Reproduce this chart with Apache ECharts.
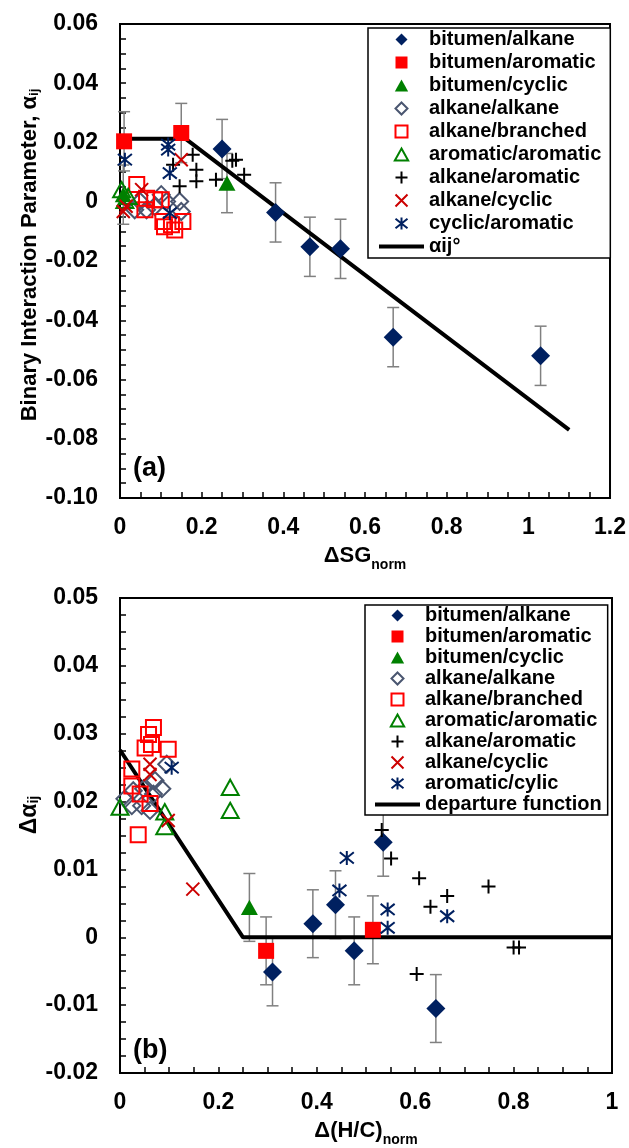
<!DOCTYPE html>
<html>
<head>
<meta charset="utf-8">
<script src="https://cdn.jsdelivr.net/npm/echarts@6/dist/echarts.min.js"></script>
<style>
  html, body { margin: 0; padding: 0; background: #fff; }
  #chart { width: 629px; height: 1148px; }
</style>
</head>
<body>
<div id="chart"></div>
<script>
// ---- (a) alpha_ij vs dSG_norm ----
const aBitAlkane = [[0.25, 0.0178], [0.381, -0.0036], [0.465, -0.0152], [0.54, -0.0159], [0.669, -0.0457], [1.03, -0.052]]
const aBitAromatic = [[0.01, 0.0204], [0.15, 0.0232]]
const aBitCyclic = [[0.008, 0.0024], [0.262, 0.0063]]
const aAlkAlk = [[0.036, -0.0027], [0.049, 0.0001], [0.065, -0.0027], [0.085, -0.0016], [0.101, 0.0024], [0.114, 0.0001], [0.146, 0.0001], [0.15, -0.0033]]
const aAlkBranched = [[0.041, 0.0058], [0.061, -0.0027], [0.065, 0.0012], [0.085, 0.0007], [0.101, 0.0007], [0.105, -0.0067], [0.109, -0.0084], [0.126, -0.0078], [0.134, -0.0095], [0.154, -0.0067]]
const aAroAro = [[0.004, 0.0041], [0.012, 0.0005], [0.02, 0.0018]]
const aAlkAro = [[0.13, 0.0125], [0.146, 0.0052], [0.178, 0.0159], [0.187, 0.0108], [0.187, 0.0069], [0.235, 0.0074], [0.275, 0.0138], [0.284, 0.0142], [0.304, 0.0091]]
const aAlkCyc = [[0.008, -0.0033], [0.015, -0.0015], [0.053, 0.0041], [0.15, 0.0142]]
const aCycAro = [[0.012, 0.0142], [0.118, 0.0193], [0.118, 0.0176], [0.122, 0.0097], [0.122, -0.0038]]
const aFit = [[0, 0.0213], [0.16, 0.0213], [1.1, -0.077]]
const aErr = 0.01

// ---- (b) delta alpha_ij vs d(H/C)_norm ----
const bBitAlkane = [[0.31, -0.0051], [0.392, 0.002], [0.438, 0.0048], [0.476, -0.002], [0.535, 0.014], [0.642, -0.0105]]
const bBitAromatic = [[0.297, -0.002], [0.514, 0.0011]]
const bBitCyclic = [[0.263, 0.0044]]
const bAlkAlk = [[0.01, 0.0204], [0.024, 0.0194], [0.027, 0.0216], [0.044, 0.0194], [0.048, 0.0219], [0.061, 0.0187], [0.068, 0.0211], [0.071, 0.0231], [0.085, 0.0219], [0.095, 0.0255]]
const bAlkBranched = [[0.024, 0.0248], [0.024, 0.0223], [0.037, 0.0151], [0.041, 0.0211], [0.051, 0.0279], [0.058, 0.0299], [0.061, 0.0197], [0.064, 0.0284], [0.068, 0.0309], [0.098, 0.0277]]
const bAroAro = [[0, 0.0192], [0.091, 0.0185], [0.091, 0.0163], [0.224, 0.0221], [0.224, 0.0187]]
const bAlkAro = [[0.532, 0.0158], [0.551, 0.0116], [0.603, -0.0054], [0.608, 0.0087], [0.631, 0.0045], [0.665, 0.0061], [0.749, 0.0075], [0.8, -0.0015], [0.811, -0.0015]]
const bAlkCyc = [[0.061, 0.0255], [0.061, 0.024], [0.098, 0.0172], [0.148, 0.0071]]
const bCycAro = [[0.105, 0.025], [0.446, 0.0069], [0.461, 0.0117], [0.544, 0.0041], [0.544, 0.0014], [0.665, 0.0031]]
const bFit = [[0, 0.0276], [0.25, 0], [1, 0]]
const bErr = 0.005

const aNames = ["bitumen/alkane", "bitumen/aromatic", "bitumen/cyclic", "alkane/alkane", "alkane/branched", "aromatic/aromatic", "alkane/aromatic", "alkane/cyclic", "cyclic/aromatic", "αij°"]
const bNames = ["bitumen/alkane", "bitumen/aromatic", "bitumen/cyclic", "alkane/alkane", "alkane/branched", "aromatic/aromatic", "alkane/aromatic", "alkane/cyclic", "aromatic/cylic", "departure function"]

const FONT = "Liberation Sans, Arial, sans-serif"
const NAVY = "#002060"
// path symbols so the legend keeps them square
const DIAMOND = "path://M5,0L10,5L5,10L0,5Z"
const SQUARE = "path://M0,0L10,0L10,10L0,10Z"
const TRIANGLE = "path://M5,0L10,9L0,9Z"
const PLUS = "path://M5,0L5,10M0,5L10,5"
const CROSS = "path://M0,0L10,10M10,0L0,10"
const STAR = "path://M0,1L10,9M10,1L0,9M5,0L5,10"

// marker looks
const looks = {
  bitAlkane: { symbol: DIAMOND, size: 19, color: NAVY, filled: true },
  bitAromatic: { symbol: SQUARE, size: 16, color: "#ff0000", filled: true },
  bitCyclic: { symbol: TRIANGLE, size: 17, color: "#008000", filled: true },
  alkAlk: { symbol: DIAMOND, size: 17, color: "#4a5670", filled: false },
  alkBranched: { symbol: SQUARE, size: 15, color: "#ff0000", filled: false },
  aroAro: { symbol: TRIANGLE, size: 17, color: "#008000", filled: false },
  alkAro: { symbol: PLUS, size: 14, color: "#000000", filled: false },
  alkCyc: { symbol: CROSS, size: 13, color: "#cc0000", filled: false },
  cycAro: { symbol: STAR, size: 14, color: NAVY, filled: false }
}

function scatter(name, data, look, idx) {
  return {
    type: "scatter",
    name: name,
    xAxisIndex: idx,
    yAxisIndex: idx,
    data: data,
    z: 3,
    symbol: look.symbol,
    symbolSize: look.size,
    symbolKeepAspect: true,
    itemStyle: look.filled
      ? { color: look.color, borderWidth: 0, opacity: 1 }
      : { color: "rgba(0,0,0,0)", borderColor: look.color, borderWidth: 2, opacity: 1 },
    emphasis: { disabled: true }
  }
}

function errBars(data, err, idx) {
  return {
    type: "custom",
    xAxisIndex: idx,
    yAxisIndex: idx,
    z: 1,
    silent: true,
    data: data.map(p => [p[0], p[1] - err, p[1] + err]),
    renderItem: (params, api) => {
      const lo = api.coord([api.value(0), api.value(1)])
      const hi = api.coord([api.value(0), api.value(2)])
      const w = 6
      const st = { stroke: "#808080", lineWidth: 1.5 }
      return {
        type: "group",
        children: [
          { type: "line", shape: { x1: lo[0], y1: lo[1], x2: hi[0], y2: hi[1] }, style: st },
          { type: "line", shape: { x1: lo[0] - w, y1: lo[1], x2: lo[0] + w, y2: lo[1] }, style: st },
          { type: "line", shape: { x1: hi[0] - w, y1: hi[1], x2: hi[0] + w, y2: hi[1] }, style: st }
        ]
      }
    }
  }
}

function fitLine(name, data, idx) {
  return {
    type: "line",
    name: name,
    xAxisIndex: idx,
    yAxisIndex: idx,
    data: data,
    z: 2,
    symbol: "none",
    lineStyle: { color: "#000", width: 4 },
    itemStyle: { color: "#000" },
    emphasis: { disabled: true }
  }
}

function valueAxis(idx, min, max, interval, fmt, margin, extra) {
  return Object.assign({
    type: "value",
    gridIndex: idx,
    min: min,
    max: max,
    interval: interval,
    axisLine: { show: true, onZero: false, lineStyle: { color: "#000", width: 2 } },
    axisTick: { show: true, inside: true, length: 6, lineStyle: { color: "#000", width: 1.5 } },
    minorTick: { show: true, splitNumber: 4, length: 6, lineStyle: { color: "#000", width: 1.5 } },
    splitLine: { show: false },
    axisLabel: {
      color: "#000", fontSize: 23, fontWeight: "bold", fontFamily: FONT, margin: margin,
      showMinLabel: true, showMaxLabel: true,
      formatter: fmt
    }
  }, extra)
}

const yFmt = v => (Math.abs(v) < 1e-9 ? "0" : v.toFixed(2))
const xFmt = v => String(Math.round(v * 10) / 10)

const nameStyle = {
  color: "#000", fontSize: 22, fontWeight: "bold", fontFamily: FONT,
  rich: { s: { fontSize: 14, fontWeight: "bold", fontFamily: FONT, color: "#000", verticalAlign: "bottom", padding: [0, 0, -5, 0] } }
}

function legendFor(names, lineName, top, rowH, left, pad) {
  return {
    orient: "vertical",
    left: left,
    top: top,
    data: names.map(n => n === lineName
      ? { name: n, itemStyle: { color: "rgba(0,0,0,0)", borderWidth: 0, opacity: 0 }, lineStyle: { color: "#000", width: 4 } }
      : n),
    itemWidth: 45,
    itemHeight: 12,
    itemGap: 0,
    symbolKeepAspect: true,
    padding: pad,
    backgroundColor: "#fff",
    borderColor: "#000",
    borderWidth: 1.5,
    selectedMode: false,
    textStyle: { color: "#000", fontSize: 20, fontWeight: "bold", fontFamily: FONT, lineHeight: rowH }
  }
}

const chart = echarts.init(document.getElementById("chart"), null, { renderer: "canvas" })

const option = {
  animation: false,
  backgroundColor: "#fff",
  grid: [
    { left: 120, right: 17, top: 24, bottom: 650, show: true, borderColor: "#000", borderWidth: 2 },
    { left: 120, right: 17, top: 598, bottom: 66, show: true, borderColor: "#000", borderWidth: 2 }
  ],
  xAxis: [
    valueAxis(0, 0, 1.2, 0.2, xFmt, 18, { name: "ΔSG{s|norm}", nameLocation: "middle", nameGap: 47, nameTextStyle: nameStyle }),
    valueAxis(1, 0, 1, 0.2, xFmt, 18, { name: "Δ(H/C){s|norm}", nameLocation: "middle", nameGap: 47, nameTextStyle: nameStyle })
  ],
  yAxis: [
    valueAxis(0, -0.1, 0.06, 0.02, yFmt, 22, {}),
    valueAxis(1, -0.02, 0.05, 0.01, yFmt, 22, {})
  ],
  legend: [
    legendFor(aNames, "αij°", 28, 23, 368, [0, 9, 0, 9]),
    legendFor(bNames, "departure function", 605, 21, 365, [0, 6, 0, 8])
  ],
  graphic: [
    { type: "text", x: 133, y: 469, style: { text: "(a)", fontSize: 27, fontWeight: "bold", fontFamily: FONT, fill: "#000", textAlign: "left", textVerticalAlign: "middle" } },
    { type: "text", x: 133, y: 1051, style: { text: "(b)", fontSize: 27, fontWeight: "bold", fontFamily: FONT, fill: "#000", textAlign: "left", textVerticalAlign: "middle" } },
    {
      type: "text", x: 30, y: 255, rotation: Math.PI / 2,
      style: {
        text: "Binary Interaction Parameter, α{s|ij}", fontSize: 22, fontWeight: "bold", fontFamily: FONT, fill: "#000",
        textAlign: "center", textVerticalAlign: "middle",
        rich: { s: { fontSize: 13, fontWeight: "bold", fontFamily: FONT, fill: "#000", verticalAlign: "bottom" } }
      }
    },
    {
      type: "text", x: 30, y: 815, rotation: Math.PI / 2,
      style: {
        text: "Δα{s|ij}", fontSize: 23, fontWeight: "bold", fontFamily: FONT, fill: "#000",
        textAlign: "center", textVerticalAlign: "middle",
        rich: { s: { fontSize: 14, fontWeight: "bold", fontFamily: FONT, fill: "#000", verticalAlign: "bottom" } }
      }
    }
  ],
  series: [
    errBars(aBitAlkane.concat(aBitAromatic, aBitCyclic), aErr, 0),
    fitLine("αij°", aFit, 0),
    scatter("bitumen/alkane", aBitAlkane, looks.bitAlkane, 0),
    scatter("bitumen/aromatic", aBitAromatic, looks.bitAromatic, 0),
    scatter("bitumen/cyclic", aBitCyclic, looks.bitCyclic, 0),
    scatter("alkane/alkane", aAlkAlk, looks.alkAlk, 0),
    scatter("alkane/branched", aAlkBranched, looks.alkBranched, 0),
    scatter("aromatic/aromatic", aAroAro, looks.aroAro, 0),
    scatter("alkane/aromatic", aAlkAro, looks.alkAro, 0),
    scatter("alkane/cyclic", aAlkCyc, looks.alkCyc, 0),
    scatter("cyclic/aromatic", aCycAro, looks.cycAro, 0),

    errBars(bBitAlkane.concat(bBitAromatic, bBitCyclic), bErr, 1),
    fitLine("departure function", bFit, 1),
    scatter("bitumen/alkane", bBitAlkane, looks.bitAlkane, 1),
    scatter("bitumen/aromatic", bBitAromatic, looks.bitAromatic, 1),
    scatter("bitumen/cyclic", bBitCyclic, looks.bitCyclic, 1),
    scatter("alkane/alkane", bAlkAlk, looks.alkAlk, 1),
    scatter("alkane/branched", bAlkBranched, looks.alkBranched, 1),
    scatter("aromatic/aromatic", bAroAro, looks.aroAro, 1),
    scatter("alkane/aromatic", bAlkAro, looks.alkAro, 1),
    scatter("alkane/cyclic", bAlkCyc, looks.alkCyc, 1),
    scatter("aromatic/cylic", bCycAro, looks.cycAro, 1)
  ]
}

chart.setOption(option)

window.addEventListener("resize", () => {
  chart.resize()
})
</script>
</body>
</html>
